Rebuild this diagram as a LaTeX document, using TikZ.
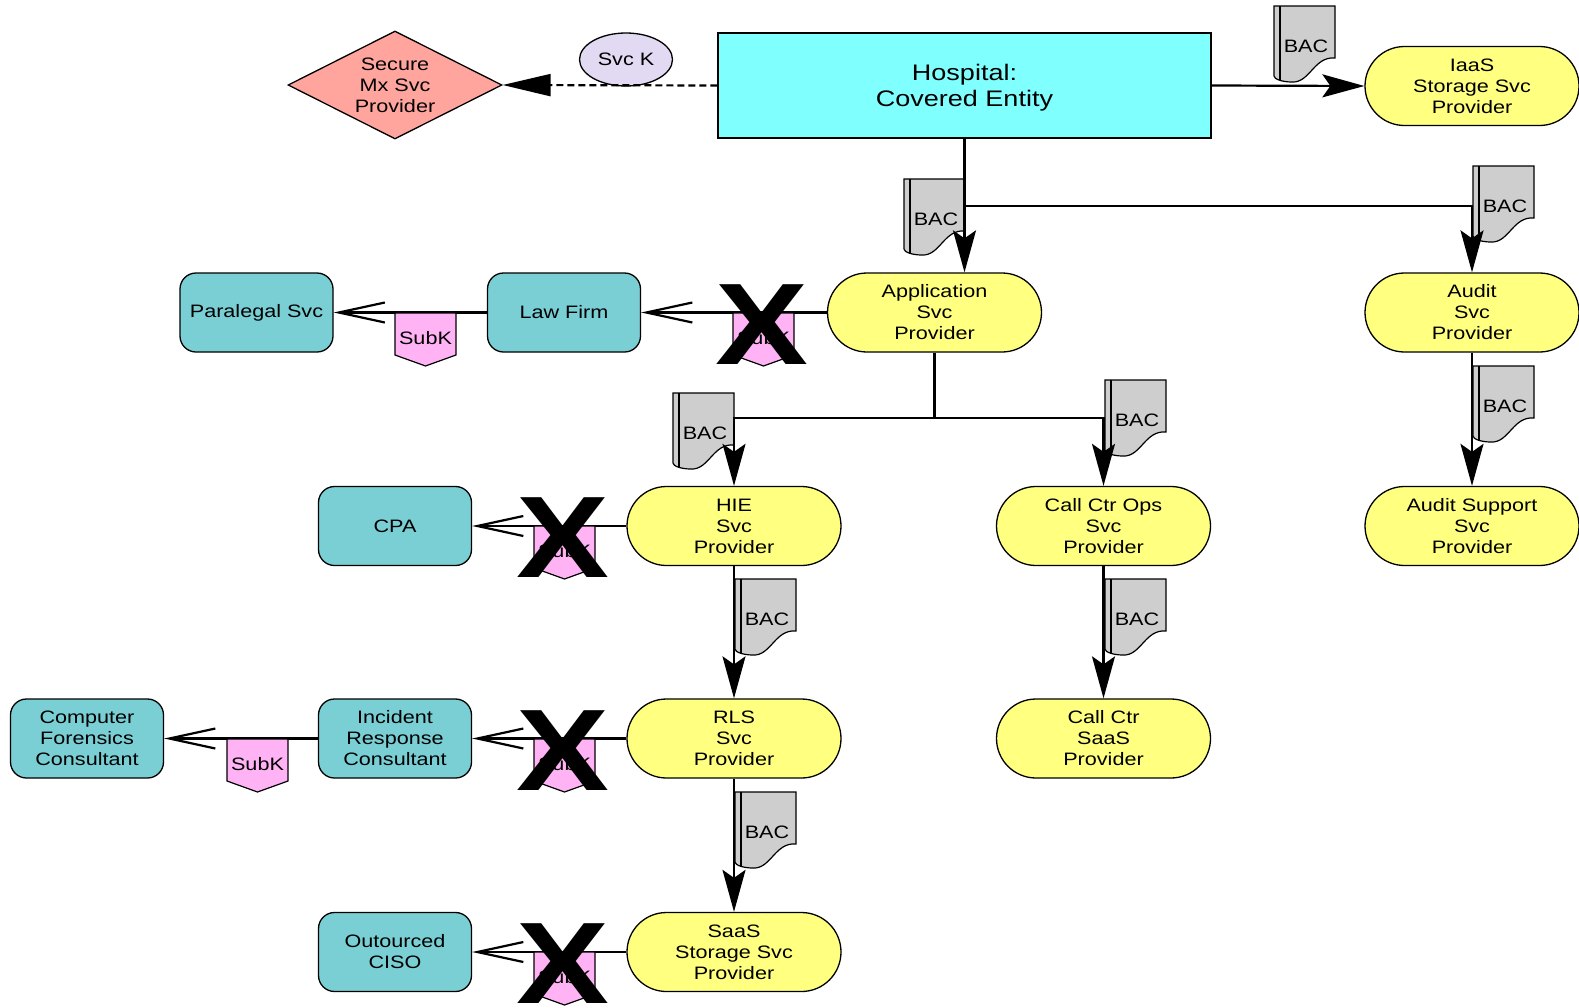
\documentclass[tikz,border=0pt]{standalone}
\usepackage{fontspec}
\setmainfont[FakeStretch=1.2]{Liberation Sans}
\usetikzlibrary{arrows.meta,shapes.geometric,shapes.misc}

\definecolor{hospcyan}{RGB}{128,255,255}
\definecolor{provyellow}{RGB}{255,255,128}
\definecolor{firmteal}{RGB}{122,207,213}
\definecolor{gemsalmon}{RGB}{255,165,158}
\definecolor{svclav}{RGB}{226,218,242}
\definecolor{subkpink}{RGB}{255,179,245}
\definecolor{docgrey}{RGB}{206,206,206}

\newcommand\lblfont{\fontsize{18}{21}\selectfont}
\newcommand\hospfont{\fontsize{22.5}{26}\selectfont}

% Business associate contract: a document with a wavy bottom edge
\newcommand\bacdoc[3]{%
  \filldraw[docline] (#2,#3) -- (#2+61,#3) -- (#2+61,#3+52)
    .. controls (#2+40,#3+50) and (#2+36,#3+77) .. (#2+18,#3+76)
    .. controls (#2+8,#3+76) and (#2,#3+73) .. (#2,#3+70) -- cycle;
  \draw[docline] (#2+6,#3) -- (#2+6,#3+74);
  \node[doclabel] (#1) at (#2+32,#3+40) {BAC};
}
% Subcontract tag hanging below a connector
\newcommand\subktag[3]{%
  \filldraw[subkline] (#2,#3) -- (#2+61,#3) -- (#2+61,#3+42)
    -- (#2+30.5,#3+53) -- (#2,#3+42) -- cycle;
  \node[subklabel] (#1) at (#2+30.5,#3+25) {SubK};
}
% Bold cross over a cancelled subcontract
\newcommand\crossout[3]{%
  \node[crossmark] (#1) at (#2+29,#3+12) {X};
}

\begin{document}
\begin{tikzpicture}[x=1pt,y=-1pt,
  hospbox/.style={rectangle, draw, fill=hospcyan, line width=1.3pt,
    minimum width=493pt, minimum height=105pt, inner sep=0pt,
    align=center, font=\hospfont},
  stadium/.style={rounded rectangle, draw, fill=provyellow, line width=1.3pt,
    minimum width=214pt, minimum height=79pt, inner sep=0pt,
    align=center, font=\lblfont},
  firm/.style={rectangle, rounded corners=16pt, draw, fill=firmteal,
    line width=1.3pt, minimum width=153pt, minimum height=79pt,
    inner sep=0pt, align=center, font=\lblfont},
  gem/.style={diamond, draw, fill=gemsalmon, line width=1.3pt, aspect=2,
    minimum width=214pt, minimum height=108pt, inner sep=0pt,
    align=center, font=\lblfont},
  svcoval/.style={ellipse, draw, fill=svclav, line width=1.3pt,
    minimum width=93pt, minimum height=53pt, inner sep=0pt, font=\lblfont},
  docline/.style={draw=black, fill=docgrey, line width=1.2pt},
  doclabel/.style={inner sep=0pt, font=\lblfont},
  subkline/.style={draw=black, fill=subkpink, line width=1.2pt},
  subklabel/.style={inner sep=0pt, font=\lblfont},
  crossmark/.style={inner sep=0pt, font=\fontsize{116}{116}\selectfont\bfseries},
  link/.style={line width=2.2pt},
  fillhead/.style={-{Stealth[length=42pt,width=23pt,inset=8pt]}},
  openhead/.style={-{Straight Barb[length=46pt,width=20pt]}},
  svchead/.style={-{Triangle[length=48pt,width=22pt]}, dashed,
    dash pattern=on 7pt off 4pt}
]
\useasboundingbox (0,0) rectangle (1579,1007);

% --- entities ---
\node[hospbox] (hosp) at (964.5,85.5) {\raisebox{-3pt}[\height][\depth]{\begin{tabular}{@{}c@{}}Hospital:\\Covered Entity\end{tabular}}};
\node[gem] (secure) at (395,85) {Secure\\Mx Svc\\Provider};
\node[svcoval] (svck) at (626,59.5) {Svc K};
\node[stadium] (iaas) at (1472,86) {IaaS\\Storage Svc\\Provider};

\node[stadium] (app) at (934.5,312.5) {Application\\Svc\\Provider};
\node[stadium] (audit) at (1472,312.5) {Audit\\Svc\\Provider};
\node[firm] (law) at (564,312.5) {Law Firm};
\node[firm] (para) at (256.5,312.5) {Paralegal Svc};

\node[stadium] (hie) at (734,526) {HIE\\Svc\\Provider};
\node[stadium] (callops) at (1103.5,526) {Call Ctr Ops\\Svc\\Provider};
\node[stadium] (auditsup) at (1472,526) {Audit Support\\Svc\\Provider};
\node[firm] (cpa) at (395,526) {CPA};

\node[stadium] (rls) at (734,738.5) {RLS\\Svc\\Provider};
\node[stadium] (callsaas) at (1103.5,738.5) {Call Ctr\\SaaS\\Provider};
\node[firm] (incident) at (395,738.5) {Incident\\Response\\Consultant};
\node[firm] (forensics) at (87,738.5) {Computer\\Forensics\\Consultant};

\node[stadium] (saas) at (734,952) {SaaS\\Storage Svc\\Provider};
\node[firm] (ciso) at (395,952) {Outourced\\CISO};

% --- business associate contracts ---
\bacdoc{bacIaas}{1274}{6}
\bacdoc{bacApp}{904}{179}
\bacdoc{bacAudit}{1473}{166}
\bacdoc{bacHie}{673}{393}
\bacdoc{bacCall}{1105}{380}
\bacdoc{bacAuditSup}{1473}{366}
\bacdoc{bacRls}{735}{579}
\bacdoc{bacCallSaas}{1105}{579}
\bacdoc{bacSaas}{735}{792}

% --- connectors ---
\draw[link, svchead] (hosp.west) -- (secure.east);
\draw[link, fillhead] (hosp.east) -- (iaas.west);

\coordinate (j1) at (hosp.south |- 0,206);
\draw[link, fillhead] (hosp.south) -- (hosp.south |- app.north);
\draw[link, fillhead] (j1) -| (audit.north);
\draw[link, fillhead] (audit.south) -- (auditsup.north);

\coordinate (j2) at (app.south |- 0,418);
\draw[link] (app.south) -- (j2);
\draw[link, fillhead] (j2) -| (hie.north);
\draw[link, fillhead] (j2) -| (callops.north);
\draw[link, fillhead] (hie.south) -- (rls.north);
\draw[link, fillhead] (rls.south) -- (saas.north);
\draw[link, fillhead] (callops.south) -- (callsaas.north);

\draw[link, openhead] (app.west) -- (law.east);
\draw[link, openhead] (law.west) -- (para.east);
\draw[link, openhead] (hie.west) -- (cpa.east);
\draw[link, openhead] (rls.west) -- (incident.east);
\draw[link, openhead] (incident.west) -- (forensics.east);
\draw[link, openhead] (saas.west) -- (ciso.east);

% --- subcontracts ---
\subktag{subLaw}{395}{313}
\subktag{subApp}{733}{313}
\subktag{subHie}{534}{526}
\subktag{subRls}{534}{739}
\subktag{subInc}{227}{739}
\subktag{subSaas}{534}{952}

\crossout{xApp}{733}{312.5}
\crossout{xHie}{534}{526}
\crossout{xRls}{534}{739}
\crossout{xSaas}{534}{952}
\end{tikzpicture}
\end{document}
